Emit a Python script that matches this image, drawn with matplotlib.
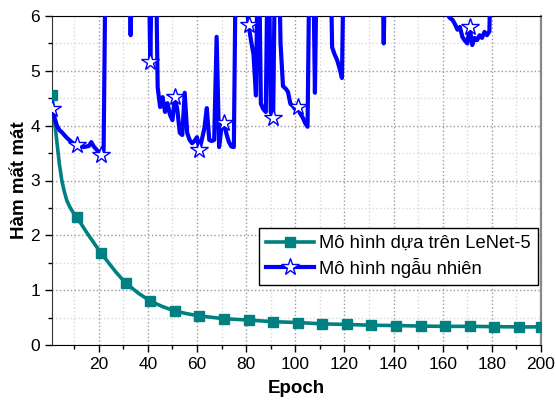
import numpy as np
import matplotlib
matplotlib.use("Agg")
import matplotlib.pyplot as plt
from matplotlib.ticker import MultipleLocator

plt.rcParams['font.family'] = ['Liberation Sans', 'DejaVu Sans']

# LeNet-5 based model loss (smooth curve)
lenet_epoch = [1, 2, 3, 4, 5, 6, 7, 8, 9, 10, 11, 13, 15, 17, 19, 21, 24, 27, 31, 36,
               41, 46, 51, 56, 61, 71, 81, 91, 101, 111, 121, 131, 141, 151, 161, 171,
               181, 191, 200]
lenet_loss = [4.56, 4.1, 3.7, 3.3, 3.0, 2.8, 2.64, 2.54, 2.46, 2.39, 2.33, 2.2, 2.06, 1.93,
              1.8, 1.68, 1.5, 1.33, 1.13, 0.95, 0.80, 0.70, 0.62, 0.57, 0.53, 0.48, 0.455,
              0.425, 0.41, 0.385, 0.375, 0.36, 0.355, 0.345, 0.34, 0.34, 0.335, 0.33, 0.33]
lenet_marks = [1, 11, 21, 31, 41, 51, 61, 71, 81, 91, 101, 111, 121, 131, 141, 151,
               161, 171, 181, 191, 200]

# random model loss, epochs 1..200 (values above 6 are off the chart)
random_loss = [
    4.30, 4.15, 4.00, 3.92, 3.88, 3.83, 3.78, 3.74, 3.70, 3.67,      # 1-10
    3.65, 3.64, 3.62, 3.61, 3.62, 3.63, 3.70, 3.62, 3.57, 3.52,      # 11-20
    3.46, 3.55, 8.0, 8.0, 8.0, 8.0, 8.0, 8.0, 8.0, 8.0,              # 21-30
    8.0, 8.0, 5.65, 8.0, 8.0, 8.0, 8.0, 8.0, 8.0, 8.0,               # 31-40
    5.17, 8.0, 8.0, 4.70, 4.34, 4.52, 4.25, 4.41, 4.20, 4.10,        # 41-50
    4.52, 4.29, 3.87, 3.83, 4.60, 3.87, 3.74, 3.68, 3.72, 3.79,      # 51-60
    3.56, 3.75, 3.95, 4.32, 3.74, 3.72, 3.74, 5.62, 3.61, 3.98,      # 61-70
    4.05, 3.85, 3.70, 3.62, 3.61, 8.0, 8.0, 8.0, 8.0, 6.3,           # 71-80
    5.84, 5.55, 5.30, 4.55, 8.0, 4.40, 4.30, 4.25, 8.0, 4.25,        # 81-90
    4.14, 8.0, 8.0, 5.50, 4.72, 4.68, 4.62, 4.40, 4.36, 4.30,        # 91-100
    4.34, 4.22, 4.15, 4.05, 3.98, 8.0, 8.0, 4.60, 8.0, 8.0,          # 101-110
    8.0, 8.0, 8.0, 8.0, 5.43, 5.30, 5.20, 5.05, 4.87, 8.0,           # 111-120
    8.0, 8.0, 8.0, 8.0, 8.0, 8.0, 8.0, 8.0, 8.0, 8.0,                # 121-130
    8.0, 8.0, 8.0, 8.0, 8.0, 5.50, 8.0, 8.0, 8.0, 8.0,               # 131-140
    8.0, 8.0, 8.0, 8.0, 8.0, 8.0, 8.0, 8.0, 8.0, 8.0,                # 141-150
    8.0, 8.0, 8.0, 8.0, 8.0, 8.0, 8.0, 8.0, 6.10, 6.05,              # 151-160
    6.15, 6.02, 5.96, 5.93, 5.85, 5.75, 5.80, 5.62, 5.55, 5.50,      # 161-170
    5.80, 5.47, 5.60, 5.56, 5.65, 5.60, 5.71, 5.65, 5.72, 8.0,       # 171-180
    8.0, 8.0, 8.0, 8.0, 8.0, 8.0, 8.0, 8.0, 8.0, 8.0,                # 181-190
    8.0, 8.0, 8.0, 8.0, 8.0, 8.0, 8.0, 8.0, 8.0, 8.0,                # 191-200
]
random_epoch = np.arange(1, len(random_loss) + 1)

fig = plt.figure(figsize=(5.56, 4.0), dpi=100)
ax = fig.add_axes([52 / 556, 55 / 400, 489 / 556, 329 / 400])

lenet_idx = [lenet_epoch.index(e) for e in lenet_marks]
ax.plot(lenet_epoch, lenet_loss, color="#008080", lw=2.6, marker="s", ms=7.5,
        markevery=lenet_idx, label="Mô hình dựa trên LeNet-5", zorder=3)
ax.plot(random_epoch, random_loss, color="#0000FF", lw=3.0, marker="*", ms=13,
        mfc="white", mec="#0000FF", mew=1.0, markevery=list(range(0, 200, 10)),
        label="Mô hình ngẫu nhiên", zorder=4)

ax.set_xlim(1, 200)
ax.set_ylim(0, 6)
ax.xaxis.set_major_locator(MultipleLocator(20))
ax.xaxis.set_minor_locator(MultipleLocator(10))
ax.yaxis.set_major_locator(MultipleLocator(1))
ax.yaxis.set_minor_locator(MultipleLocator(0.5))
ax.grid(True, which="major", color="#9a9a9a", linestyle=":", lw=1.0)
ax.grid(True, which="minor", color="#d8d8d8", linestyle=":", lw=1.0)
ax.set_axisbelow(True)

ax.tick_params(which="both", direction="out", labelsize=12.5, width=1.0)
ax.tick_params(which="major", length=5)
ax.tick_params(which="minor", length=3)
for s in ["top", "bottom"]:
    ax.spines[s].set_color("black")
ax.spines["left"].set_color("#333333")
ax.spines["right"].set_color("#888888")
ax.spines["right"].set_linewidth(1.6)

ax.set_xlabel("Epoch", fontsize=13.5, fontweight="bold", labelpad=6)
ax.set_ylabel("Hàm mất mát", fontsize=13.5, fontweight="bold", labelpad=2)

leg = ax.legend(loc="upper right", bbox_to_anchor=(0.994, 0.356), borderaxespad=0,
                fontsize=13.2, frameon=True, fancybox=False, framealpha=1,
                edgecolor="black", handlelength=2.6, borderpad=0.4,
                labelspacing=0.3, handletextpad=0.3)
leg.get_frame().set_linewidth(1.0)

fig.savefig("out.png", dpi=100)
